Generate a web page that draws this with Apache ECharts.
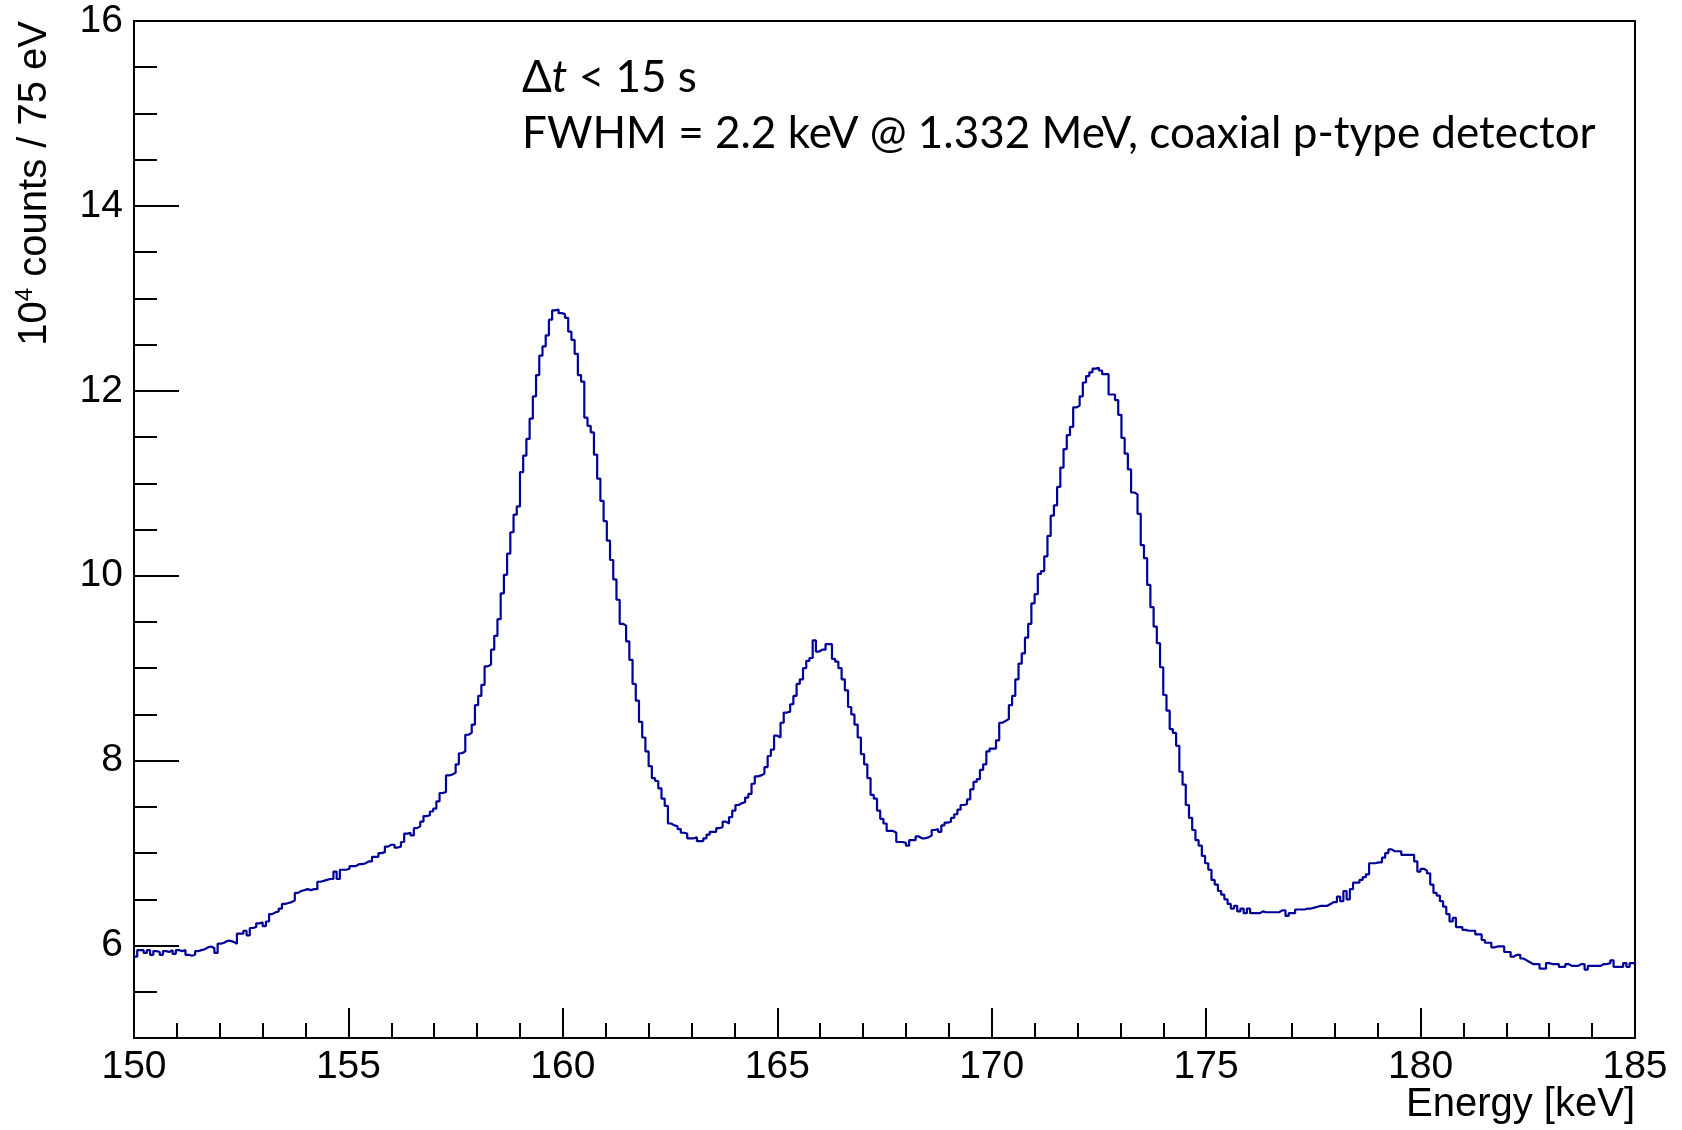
<!DOCTYPE html>
<html>
<head>
<meta charset="utf-8">
<title>Energy spectrum</title>
<script src="https://cdn.jsdelivr.net/npm/echarts@6/dist/echarts.min.js"></script>
<style>
  html, body { margin: 0; padding: 0; background: #fff; }
  #chart { width: 1682px; height: 1130px; }
</style>
</head>
<body>
<div id="chart"></div>
<script>
// histogram: 75 eV bins starting at 150 keV, values in 10^4 counts
const binStart = 150
const binWidth = 0.075

// 150 - 155 keV
const counts1 = [
  5.88, 5.95, 5.95, 5.92, 5.95, 5.90, 5.94, 5.93, 5.90, 5.94, 5.93, 5.95, 5.91, 5.95, 5.94, 5.95,
  5.90, 5.89, 5.90, 5.94, 5.95, 5.96, 5.98, 5.99, 5.97, 5.92, 6.02, 6.03, 6.05, 6.05, 6.04, 6.02,
  6.13, 6.13, 6.16, 6.11, 6.19, 6.20, 6.24, 6.25, 6.21, 6.26, 6.34, 6.36, 6.37, 6.40, 6.45, 6.46,
  6.47, 6.49, 6.57, 6.59, 6.60, 6.61, 6.60, 6.61, 6.61, 6.69, 6.70, 6.71, 6.72, 6.72, 6.80, 6.72,
  6.82, 6.82, 6.83
]
// 155 - 160 keV
const counts2 = [
  6.86, 6.86, 6.88, 6.88, 6.89, 6.91, 6.91, 6.96, 6.96, 7.00, 7.01, 7.07, 7.09, 7.09, 7.06, 7.07,
  7.12, 7.21, 7.22, 7.19, 7.27, 7.29, 7.34, 7.40, 7.41, 7.45, 7.48, 7.56, 7.65, 7.66, 7.84, 7.85,
  7.87, 7.96, 8.08, 8.10, 8.28, 8.30, 8.39, 8.60, 8.70, 8.82, 9.02, 9.04, 9.20, 9.35, 9.53, 9.81,
  10.01, 10.24, 10.47, 10.66, 10.75, 11.12, 11.30, 11.48, 11.70, 11.94, 12.17, 12.38, 12.48, 12.60,
  12.77, 12.87, 12.88, 12.84, 12.83
]
// 160 - 165 keV
const counts3 = [
  12.79, 12.64, 12.55, 12.40, 12.17, 12.10, 11.71, 11.62, 11.55, 11.31, 11.05, 10.81, 10.59, 10.38,
  10.17, 9.96, 9.74, 9.48, 9.46, 9.29, 9.09, 8.83, 8.65, 8.42, 8.25, 8.10, 7.94, 7.81, 7.78, 7.70,
  7.59, 7.51, 7.32, 7.30, 7.29, 7.26, 7.22, 7.21, 7.16, 7.16, 7.17, 7.13, 7.13, 7.16, 7.20, 7.23,
  7.23, 7.27, 7.28, 7.34, 7.32, 7.39, 7.46, 7.52, 7.54, 7.55, 7.60, 7.64, 7.75, 7.83, 7.84, 7.86,
  7.93, 8.05, 8.12, 8.27
]
// 165 - 170 keV
const counts4 = [
  8.25, 8.41, 8.52, 8.53, 8.61, 8.70, 8.83, 8.88, 9.00, 9.08, 9.11, 9.30, 9.18, 9.20, 9.20, 9.26,
  9.26, 9.10, 9.07, 9.00, 8.88, 8.76, 8.58, 8.50, 8.39, 8.25, 8.07, 7.96, 7.81, 7.63, 7.59, 7.46,
  7.37, 7.32, 7.24, 7.24, 7.22, 7.12, 7.12, 7.11, 7.08, 7.14, 7.14, 7.18, 7.16, 7.16, 7.17, 7.19,
  7.25, 7.26, 7.23, 7.30, 7.33, 7.34, 7.38, 7.42, 7.47, 7.52, 7.53, 7.58, 7.69, 7.77, 7.80, 7.90,
  7.96, 8.10, 8.13
]
// 170 - 175 keV
const counts5 = [
  8.13, 8.22, 8.41, 8.43, 8.45, 8.60, 8.70, 8.88, 9.05, 9.16, 9.33, 9.48, 9.70, 9.80, 10.02, 10.05,
  10.21, 10.43, 10.65, 10.76, 10.96, 11.17, 11.37, 11.52, 11.61, 11.82, 11.84, 11.94, 12.09, 12.16,
  12.20, 12.24, 12.25, 12.22, 12.18, 12.18, 11.96, 11.96, 11.90, 11.74, 11.49, 11.32, 11.15, 10.90,
  10.88, 10.67, 10.33, 10.19, 9.90, 9.66, 9.45, 9.27, 9.01, 8.71, 8.54, 8.34, 8.30, 8.16, 7.88,
  7.74, 7.52, 7.38, 7.25, 7.14, 7.08, 6.97, 6.89
]
// 175 - 180 keV
const counts6 = [
  6.82, 6.71, 6.66, 6.59, 6.55, 6.50, 6.45, 6.40, 6.43, 6.37, 6.40, 6.35, 6.40, 6.35, 6.35, 6.35,
  6.37, 6.36, 6.36, 6.36, 6.36, 6.36, 6.38, 6.38, 6.32, 6.35, 6.35, 6.39, 6.39, 6.39, 6.40, 6.40,
  6.41, 6.42, 6.43, 6.43, 6.43, 6.45, 6.47, 6.47, 6.53, 6.48, 6.59, 6.50, 6.61, 6.68, 6.68, 6.71,
  6.74, 6.77, 6.89, 6.89, 6.90, 6.90, 6.95, 7.00, 7.04, 7.02, 7.02, 7.02, 6.98, 6.98, 6.98, 6.98,
  6.91, 6.80
]
// 180 - 185 keV
const counts7 = [
  6.83, 6.81, 6.78, 6.66, 6.57, 6.54, 6.48, 6.42, 6.34, 6.26, 6.30, 6.20, 6.20, 6.17, 6.16, 6.16,
  6.16, 6.12, 6.12, 6.06, 6.03, 6.03, 5.98, 5.99, 5.99, 5.99, 5.93, 5.93, 5.88, 5.90, 5.90, 5.86,
  5.84, 5.82, 5.80, 5.80, 5.80, 5.75, 5.75, 5.81, 5.80, 5.80, 5.80, 5.77, 5.77, 5.80, 5.78, 5.78,
  5.78, 5.80, 5.80, 5.74, 5.78, 5.78, 5.78, 5.78, 5.80, 5.80, 5.81, 5.84, 5.77, 5.77, 5.77, 5.81,
  5.77, 5.81, 5.81
]

const yLabelValues = [6, 8, 10, 12, 14, 16]
const yMinorTickValues = [5, 5.5, 6, 6.5, 7, 7.5, 8, 8.5, 9, 9.5, 10, 10.5, 11, 11.5, 12, 12.5, 13, 13.5, 14, 14.5, 15, 15.5, 16]

const xTitle = 'Energy [keV]'
const noteLine1 = '{n|Δ}{i|t}{n| < 15 s}'
const noteLine2 = 'FWHM = 2.2 keV @ 1.332 MeV, coaxial p-type detector'

const counts = [].concat(counts1, counts2, counts3, counts4, counts5, counts6, counts7)

// 直方图台阶：每个bin左右两个点
const stepPoints = []
counts.forEach((v, i) => {
  const lo = binStart + i * binWidth
  stepPoints.push([lo, v], [lo + binWidth, v])
})

const axisFont = 'Liberation Sans, Arial, Helvetica, sans-serif'
const noteFont = 'Lato, Open Sans, sans-serif'
const black = '#000'

const chart = echarts.init(document.getElementById('chart'))

const option = {
  animation: false,
  backgroundColor: '#fff',
  grid: {
    left: 134,
    top: 21,
    right: 47,
    bottom: 92,
    show: true,
    borderColor: black,
    borderWidth: 2,
    backgroundColor: 'transparent'
  },
  xAxis: {
    type: 'value',
    min: 150,
    max: 185,
    interval: 5,
    axisLine: { show: true, lineStyle: { color: black, width: 2 } },
    axisTick: { show: true, inside: true, length: 30, lineStyle: { color: black, width: 2 } },
    minorTick: { show: true, splitNumber: 5, length: 15, lineStyle: { color: black, width: 2 } },
    splitLine: { show: false },
    minorSplitLine: { show: false },
    axisLabel: {
      show: true,
      showMinLabel: true,
      showMaxLabel: true,
      margin: 10,
      color: black,
      fontSize: 39,
      fontFamily: axisFont
    }
  },
  yAxis: [
    {
      type: 'value',
      min: 5,
      max: 16,
      interval: 1,
      axisLine: { show: true, lineStyle: { color: black, width: 2 } },
      axisTick: {
        show: true,
        inside: true,
        length: 45,
        customValues: yLabelValues,
        lineStyle: { color: black, width: 2 }
      },
      splitLine: { show: false },
      axisLabel: {
        show: true,
        customValues: yLabelValues,
        margin: 11,
        color: black,
        fontSize: 39,
        fontFamily: axisFont
      }
    },
    {
      // 次刻度
      type: 'value',
      min: 5,
      max: 16,
      position: 'left',
      offset: 0,
      axisLine: { show: false },
      axisTick: {
        show: true,
        inside: true,
        length: 23,
        customValues: yMinorTickValues,
        lineStyle: { color: black, width: 2 }
      },
      splitLine: { show: false },
      axisLabel: { show: false }
    }
  ],
  series: [
    {
      type: 'line',
      data: stepPoints,
      showSymbol: false,
      symbol: 'none',
      clip: true,
      lineStyle: { color: '#000099', width: 2.2 },
      silent: true
    }
  ],
  graphic: [
    {
      type: 'text',
      x: 34,
      y: 21,
      rotation: Math.PI / 2,
      style: {
        text: '{b|10}{s|4}{b| counts / 75 eV}',
        align: 'right',
        verticalAlign: 'middle',
        fill: black,
        rich: {
          b: { fontSize: 40, fontFamily: axisFont, fill: black, verticalAlign: 'bottom', lineHeight: 42 },
          s: { fontSize: 24, fontFamily: axisFont, fill: black, verticalAlign: 'top', lineHeight: 42 }
        }
      }
    },
    {
      type: 'text',
      x: 1635,
      y: 1105,
      style: {
        text: xTitle,
        align: 'right',
        verticalAlign: 'middle',
        fontSize: 40,
        fontFamily: axisFont,
        fill: black
      }
    },
    {
      type: 'text',
      x: 522,
      y: 78,
      style: {
        text: noteLine1,
        align: 'left',
        verticalAlign: 'middle',
        fill: black,
        rich: {
          n: { fontSize: 44, fontFamily: noteFont, fill: black },
          i: { fontSize: 44, fontFamily: noteFont, fontStyle: 'italic', fill: black }
        }
      }
    },
    {
      type: 'text',
      x: 522,
      y: 134,
      style: {
        text: noteLine2,
        align: 'left',
        verticalAlign: 'middle',
        fontSize: 44,
        fontFamily: noteFont,
        fill: black
      }
    }
  ]
}

chart.setOption(option)
</script>
</body>
</html>
